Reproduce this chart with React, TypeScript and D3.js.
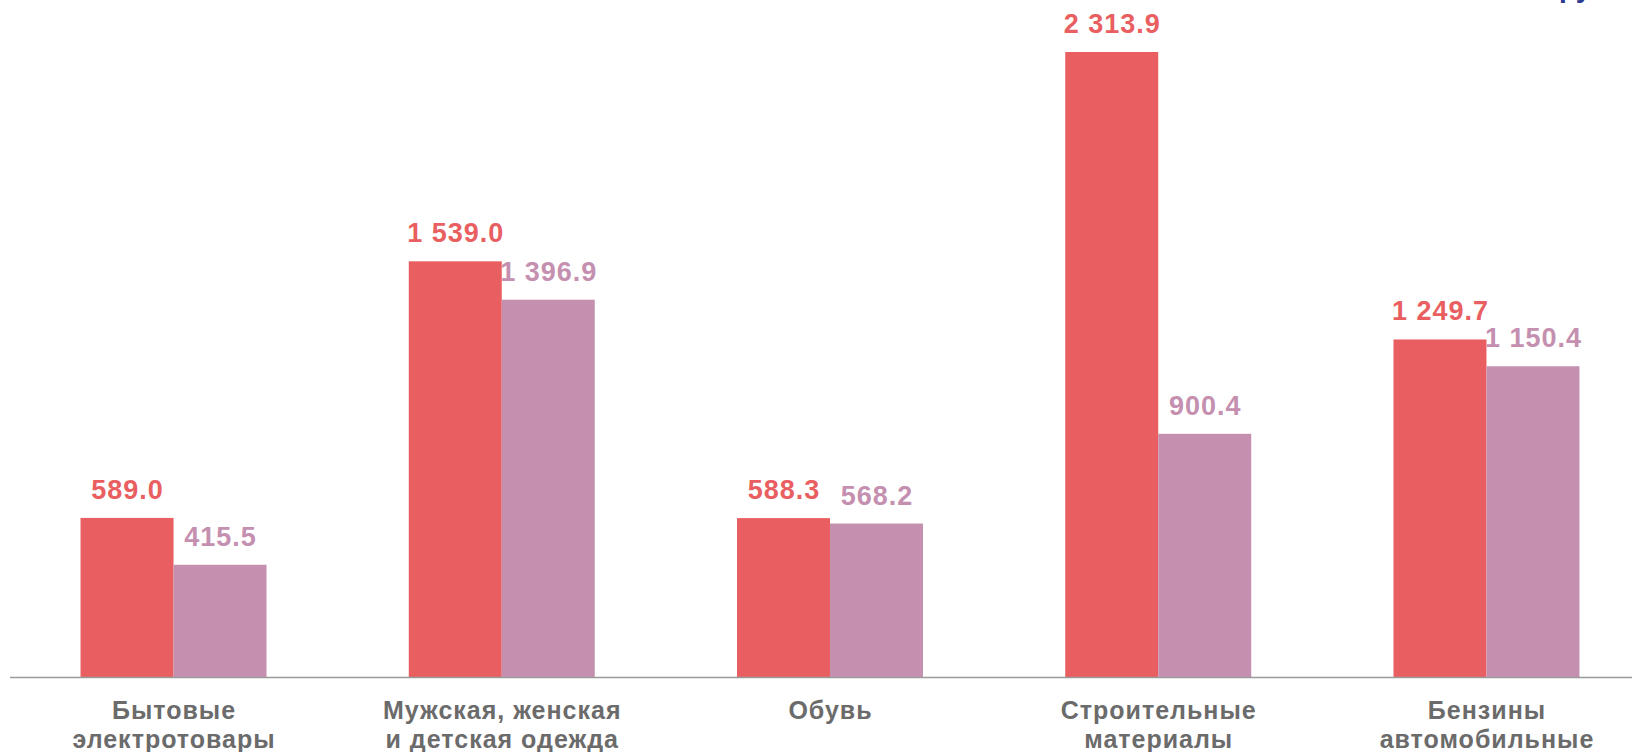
import React from "react";
import * as d3 from "d3";

const categories: string[] = [
  "Бытовые\nэлектротовары",
  "Мужская, женская\nи детская одежда",
  "Обувь",
  "Строительные\nматериалы",
  "Бензины\nавтомобильные",
];
const seriesNames: string[] = ["A", "B"];
const seriesA: number[] = [589.0, 1539.0, 588.3, 2313.9, 1249.7];
const seriesB: number[] = [415.5, 1396.9, 568.2, 900.4, 1150.4];
const seriesColors: string[] = ["#E95F61", "#C590B0"];
const unitLeft = "млн.";
const unitRight = "руб.";

const W = 1632;
const H = 752;

function fmt(v: number): string {
  const s = v.toFixed(1);
  const [i, d] = s.split(".");
  const ii = i.replace(/\B(?=(\d{3})+(?!\d))/g, " ");
  return ii + "." + d;
}

export default function App() {
  const x = d3
    .scaleBand<string>()
    .domain(categories)
    .range([9.4, 1650.6])
    .paddingInner(0.4334)
    .paddingOuter(0.4334 / 2);
  const xs = d3
    .scaleBand<string>()
    .domain(seriesNames)
    .range([0, x.bandwidth()])
    .padding(0);
  const y = d3.scaleLinear().domain([0, 2400]).range([677, 677 - 2400 * 0.2701]);
  const series = [seriesA, seriesB];

  return (
    <svg
      width={W}
      height={H}
      style={{ position: "absolute", left: 0, top: 0, background: "#fff" }}
      fontFamily="'Liberation Sans', Arial, sans-serif"
    >
      <text x={1553} y={-3} textAnchor="end" fontSize={28} fontWeight="bold" fill="#2B3990">
        {unitLeft}
      </text>
      <text x={1559} y={-3} textAnchor="start" fontSize={28} fontWeight="bold" fill="#2B3990">
        {unitRight}
      </text>
      {categories.map((c, ci) => (
        <g key={c} transform={`translate(${x(c)},0)`}>
          {series.map((s, si) => {
            const v = s[ci];
            const bx = xs(seriesNames[si]) as number;
            const bw = xs.bandwidth();
            return (
              <g key={si}>
                <rect
                  x={bx}
                  y={y(v)}
                  width={bw}
                  height={y(0) - y(v)}
                  fill={seriesColors[si]}
                />
                <text
                  x={bx + bw / 2 + 0.5}
                  y={y(v) - 19}
                  textAnchor="middle"
                  fontSize={27}
                  fontWeight="bold"
                  letterSpacing={1}
                  fill={seriesColors[si]}
                >
                  {fmt(v)}
                </text>
              </g>
            );
          })}
          {c.split("\n").map((line, li) => (
            <text
              key={li}
              x={x.bandwidth() / 2 + 0.5}
              y={719 + li * 29}
              textAnchor="middle"
              fontSize={25}
              fontWeight="bold"
              letterSpacing={1}
              fill="#6B6B6B"
            >
              {line}
            </text>
          ))}
        </g>
      ))}
      <line x1={10} x2={W} y1={y(0) + 0.5} y2={y(0) + 0.5} stroke="#9A9A9A" strokeWidth={1.5} />
    </svg>
  );
}
